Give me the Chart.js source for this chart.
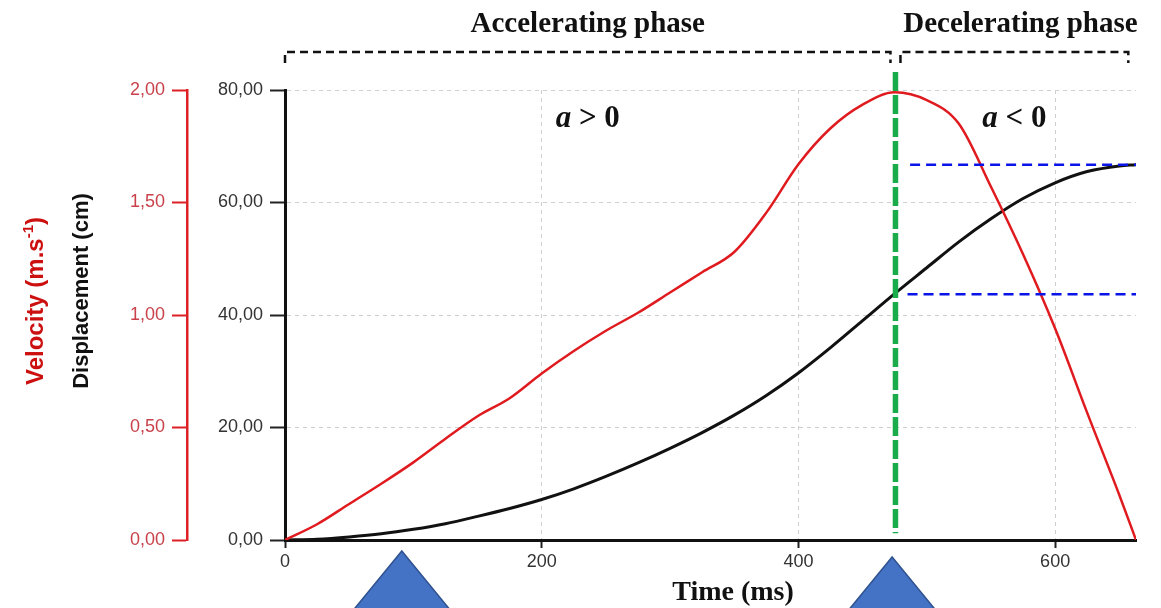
<!DOCTYPE html>
<html>
<head>
<meta charset="utf-8">
<script src="https://cdn.jsdelivr.net/npm/chart.js@4"></script>
<style>
  html, body { margin: 0; padding: 0; background: #fff; }
  #wrap { width: 1161px; height: 608px; }
</style>
</head>
<body>
<div id="wrap"><canvas id="phaseChart" width="1161" height="608"></canvas></div>
<script>
// sample times (ms), every 25 ms up to the end of the movement
const time = [0, 25, 50, 75, 100, 125, 150, 175, 200, 225, 250, 275, 300, 325, 350, 375, 400, 425, 450, 475, 500, 525, 550, 575, 600, 625, 650, 663];

// velocity (m/s)
const velocity = [0, 0.07, 0.16, 0.25, 0.345, 0.45, 0.55, 0.63, 0.74, 0.84, 0.93, 1.01, 1.10, 1.19, 1.28, 1.455, 1.67, 1.83, 1.935, 1.99, 1.955, 1.85, 1.57, 1.27, 0.94, 0.565, 0.2, 0];

// displacement (cm)
const displacement = [0, 0.15, 0.55, 1.1, 1.9, 2.9, 4.2, 5.6, 7.2, 9.1, 11.3, 13.7, 16.3, 19.1, 22.2, 25.7, 29.7, 34.2, 39.0, 43.8, 48.4, 53.0, 57.1, 60.7, 63.5, 65.5, 66.5, 66.7];

// phase split at peak velocity, reference levels and arrow markers
const peakTime = 475.6;
const endTime = 663;
const peakMarker = [83.2, 1.2];          // green line extent (cm scale)
const levelPeak = 43.7;                  // displacement at peak velocity
const levelEnd = 66.7;                   // final displacement
const levelStart = [485, 487];           // where the blue guides start
const arrowTimes = [91, 473];
const arrowTips = [551, 557];

const xTicks = [0, 200, 400, 600];
const fmt = (v) => v.toFixed(2).replace('.', ',');

const toPoints = (xs, ys) => xs.map((x, i) => ({ x: x, y: ys[i] }));

const overlay = {
  id: 'overlay',
  afterDraw(chart) {
    const ctx = chart.ctx;
    const x = chart.scales.x;
    const px = (v) => x.getPixelForValue(v);

    // phase brackets
    const b1 = [px(0), px(peakTime) - 5];
    const b2 = [px(peakTime) + 5, px(657)];
    ctx.save();
    ctx.strokeStyle = '#111';
    ctx.lineWidth = 2.5;
    ctx.setLineDash([8, 5]);
    [b1, b2].forEach(([l, r]) => {
      ctx.beginPath();
      ctx.moveTo(l, 63);
      ctx.lineTo(l, 52);
      ctx.lineTo(r, 52);
      ctx.lineTo(r, 63);
      ctx.stroke();
    });
    ctx.restore();

    // phase headings and acceleration signs
    ctx.save();
    ctx.fillStyle = '#111';
    ctx.textAlign = 'center';
    ctx.textBaseline = 'alphabetic';
    ctx.font = 'bold 29px "Liberation Serif"';
    ctx.fillText('Accelerating phase', (b1[0] + b1[1]) / 2, 32);
    ctx.fillText('Decelerating phase', (b2[0] + b2[1]) / 2 + 6, 32);
    ctx.font = 'bold 28px "Liberation Serif"';
    ctx.fillText('Time (ms)', 733, 600);

    const sign = (cx, text) => {
      ctx.font = 'bold italic 31px "Liberation Serif"';
      const wA = ctx.measureText('a').width;
      ctx.font = 'bold 31px "Liberation Serif"';
      const wR = ctx.measureText(text).width;
      const sx = cx - (wA + wR) / 2;
      ctx.textAlign = 'left';
      ctx.font = 'bold italic 31px "Liberation Serif"';
      ctx.fillText('a', sx, 127);
      ctx.font = 'bold 31px "Liberation Serif"';
      ctx.fillText(text, sx + wA, 127);
    };
    sign((b1[0] + b1[1]) / 2, ' > 0');
    sign((b2[0] + b2[1]) / 2, ' < 0');
    ctx.restore();

    // axis titles
    ctx.save();
    ctx.translate(82, 291);
    ctx.rotate(-Math.PI / 2);
    ctx.font = 'bold 22px "Liberation Sans"';
    ctx.fillStyle = '#111';
    ctx.textAlign = 'center';
    ctx.textBaseline = 'middle';
    ctx.fillText('Displacement (cm)', 0, 0);
    ctx.restore();

    ctx.save();
    ctx.translate(36, 301);
    ctx.rotate(-Math.PI / 2);
    ctx.fillStyle = '#cc1010';
    ctx.textBaseline = 'middle';
    ctx.textAlign = 'left';
    const main = 'Velocity (m.s';
    ctx.font = 'bold 24px "Liberation Sans"';
    const w1 = ctx.measureText(main).width;
    const w3 = ctx.measureText(')').width;
    ctx.font = 'bold 15px "Liberation Sans"';
    const w2 = ctx.measureText('-1').width;
    const tx = -(w1 + w2 + w3) / 2;
    ctx.font = 'bold 24px "Liberation Sans"';
    ctx.fillText(main, tx, 0);
    ctx.font = 'bold 15px "Liberation Sans"';
    ctx.fillText('-1', tx + w1, -7);
    ctx.font = 'bold 24px "Liberation Sans"';
    ctx.fillText(')', tx + w1 + w2, 0);
    ctx.restore();

    // arrow markers under the time axis
    ctx.save();
    ctx.fillStyle = '#4472c4';
    ctx.strokeStyle = '#2f528f';
    ctx.lineWidth = 1.5;
    arrowTimes.forEach((t, i) => {
      const cx = px(t);
      const tip = arrowTips[i];
      const h = 90;
      ctx.beginPath();
      ctx.moveTo(cx, tip);
      ctx.lineTo(cx + h * 0.82, tip + h);
      ctx.lineTo(cx - h * 0.82, tip + h);
      ctx.closePath();
      ctx.fill();
      ctx.stroke();
    });
    ctx.restore();
  }
};

new Chart(document.getElementById('phaseChart'), {
  type: 'line',
  data: {
    datasets: [
      {
        data: toPoints([peakTime, peakTime], peakMarker),
        yAxisID: 'yDisp',
        borderColor: '#1aab4b',
        borderWidth: 5.5,
        borderDash: [19, 4],
        pointRadius: 0,
        clip: false,
      },
      {
        data: toPoints([levelStart[1], endTime], [levelEnd, levelEnd]),
        yAxisID: 'yDisp',
        borderColor: '#0a14e6',
        borderWidth: 2.5,
        borderDash: [10, 6],
        pointRadius: 0,
        clip: false,
      },
      {
        data: toPoints([levelStart[0], endTime], [levelPeak, levelPeak]),
        yAxisID: 'yDisp',
        borderColor: '#0a14e6',
        borderWidth: 2.5,
        borderDash: [10, 6],
        pointRadius: 0,
        clip: false,
      },
      {
        data: toPoints(time, velocity),
        yAxisID: 'yVel',
        borderColor: '#e01b1f',
        borderWidth: 2.5,
        pointRadius: 0,
        cubicInterpolationMode: 'monotone',
      },
      {
        data: toPoints(time, displacement),
        yAxisID: 'yDisp',
        borderColor: '#111',
        borderWidth: 3,
        pointRadius: 0,
        cubicInterpolationMode: 'monotone',
      },
    ],
  },
  options: {
    responsive: false,
    animation: false,
    layout: { padding: { top: 90, right: 25, left: 0, bottom: 0 } },
    plugins: {
      legend: { display: false },
      tooltip: { enabled: false },
    },
    scales: {
      x: {
        type: 'linear',
        min: 0,
        max: endTime,
        afterBuildTicks: (scale) => {
          scale.ticks = xTicks.map((v) => ({ value: v }));
        },
        afterFit: (scale) => { scale.height = 68; },
        ticks: {
          font: { family: 'Liberation Sans', size: 18 },
          color: '#333',
          padding: 3,
          maxRotation: 0,
        },
        grid: {
          color: '#cfcfcf',
          lineWidth: 1,
          tickColor: '#222',
          tickLength: 8,
          tickWidth: 2,
          tickBorderDash: [],
        },
        border: { color: '#111', width: 3, dash: [4, 4] },
      },
      yVel: {
        position: 'left',
        weight: 1,
        min: 0,
        max: 2,
        afterFit: (scale) => { scale.width = 187; },
        ticks: {
          stepSize: 0.5,
          callback: (v) => fmt(v),
          font: { family: 'Liberation Sans', size: 18 },
          color: '#c9424b',
          padding: 7,
        },
        grid: {
          drawOnChartArea: false,
          tickColor: '#dd2026',
          tickLength: 15,
          tickWidth: 2,
        },
        border: { color: '#dd2026', width: 2.5 },
      },
      yDisp: {
        position: 'left',
        weight: 0,
        min: 0,
        max: 80,
        afterFit: (scale) => { scale.width = 98; },
        ticks: {
          stepSize: 20,
          callback: (v) => fmt(v),
          font: { family: 'Liberation Sans', size: 18 },
          color: '#333',
          padding: 7,
        },
        grid: {
          color: '#cfcfcf',
          lineWidth: 1,
          tickColor: '#222',
          tickLength: 15,
          tickWidth: 2,
          tickBorderDash: [],
        },
        border: { color: '#111', width: 3, dash: [4, 4] },
      },
    },
  },
  plugins: [overlay],
});
</script>
</body>
</html>
